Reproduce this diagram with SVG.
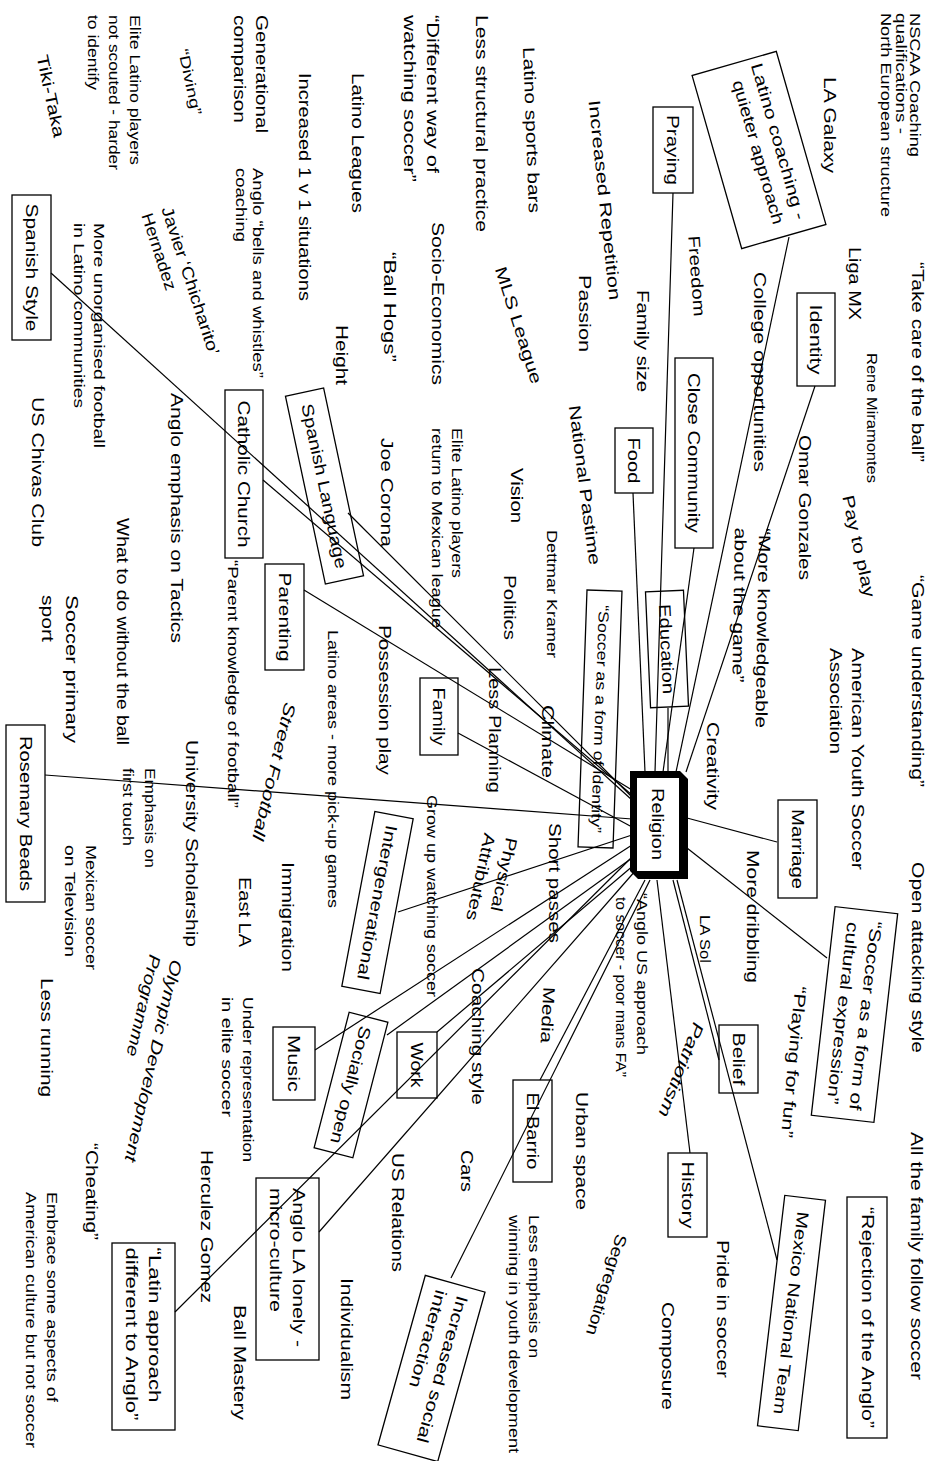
<svg xmlns="http://www.w3.org/2000/svg" width="944" height="1461" viewBox="0 0 944 1461">
<style>
text{font-family:"Liberation Sans",Arial,Helvetica,sans-serif;font-size:16.5px;fill:#000;dominant-baseline:central}
.s{font-size:13px}
.m{font-size:14.5px}
.it{font-style:italic}
.b{fill:none;stroke:#000;stroke-width:1.3}
#connectors line{stroke:#000;stroke-width:1.2}
</style>
<rect width="944" height="1461" fill="#fff"/>
<g id="nscaa" transform="translate(915,13) rotate(90)"><text class="m" textLength="144" lengthAdjust="spacingAndGlyphs">NSCAA Coaching</text><text class="m" y="14.5" textLength="121" lengthAdjust="spacingAndGlyphs">qualifications -</text><text class="m" y="29" textLength="204" lengthAdjust="spacingAndGlyphs">North European structure</text></g>
<g id="take-care" transform="translate(918,262) rotate(90)"><text textLength="200" lengthAdjust="spacingAndGlyphs">“Take care of the ball”</text></g>
<g id="game-und" transform="translate(918,575) rotate(90)"><text textLength="212" lengthAdjust="spacingAndGlyphs">“Game understanding”</text></g>
<g id="open-att" transform="translate(918,862) rotate(90)"><text textLength="191" lengthAdjust="spacingAndGlyphs">Open attacking style</text></g>
<g id="all-family" transform="translate(917,1132) rotate(90)"><text textLength="248" lengthAdjust="spacingAndGlyphs">All the family follow soccer</text></g>
<g id="rejection" transform="translate(867,1317.5) rotate(90)"><rect class="b" x="-120.5" y="-20" width="241" height="40"/><text text-anchor="middle" y="-1" textLength="221" lengthAdjust="spacingAndGlyphs">“Rejection of the Anglo”</text></g>
<g id="la-galaxy" transform="translate(830,77) rotate(90)"><text textLength="96" lengthAdjust="spacingAndGlyphs">LA Galaxy</text></g>
<g id="liga-mx" transform="translate(855,247) rotate(90)"><text textLength="73" lengthAdjust="spacingAndGlyphs">Liga MX</text></g>
<g id="rene" transform="translate(872,353) rotate(90)"><text class="m" textLength="130" lengthAdjust="spacingAndGlyphs">Rene Miramontes</text></g>
<g id="ayso" transform="translate(858,648) rotate(90)"><text textLength="222" lengthAdjust="spacingAndGlyphs">American Youth Soccer</text><text y="22" textLength="106" lengthAdjust="spacingAndGlyphs">Association</text></g>
<g id="soccer-cultural" transform="translate(854.5,1014.5) rotate(96.5)"><rect class="b" x="-105" y="-31.5" width="210" height="63"/><text text-anchor="middle" y="-11.5" textLength="190" lengthAdjust="spacingAndGlyphs">“Soccer as a form of</text><text text-anchor="middle" y="11.5" textLength="183" lengthAdjust="spacingAndGlyphs">cultural expression”</text></g>
<g id="playing-fun" transform="translate(794,1062) rotate(95.3)"><text text-anchor="middle" textLength="152" lengthAdjust="spacingAndGlyphs">“Playing for fun”</text></g>
<g id="mexico" transform="translate(791.5,1313) rotate(96.75)"><rect class="b" x="-116" y="-20.5" width="232" height="41"/><text text-anchor="middle" textLength="204" lengthAdjust="spacingAndGlyphs">Mexico National Team</text></g>
<g id="pride" transform="translate(723,1240) rotate(90)"><text textLength="138" lengthAdjust="spacingAndGlyphs">Pride in soccer</text></g>
<g id="composure" transform="translate(668,1302) rotate(90)"><text textLength="108" lengthAdjust="spacingAndGlyphs">Composure</text></g>
<g id="history" transform="translate(687.5,1195) rotate(90)"><rect class="b" x="-42" y="-19.5" width="84" height="39"/><text text-anchor="middle" textLength="67" lengthAdjust="spacingAndGlyphs">History</text></g>
<g id="segregation" transform="translate(607,1285) rotate(107)"><text text-anchor="middle" textLength="105" lengthAdjust="spacingAndGlyphs">Segregation</text></g>
<g id="less-emph" transform="translate(534,1215) rotate(90)"><text class="m" textLength="143" lengthAdjust="spacingAndGlyphs">Less emphasis on</text><text class="m" y="20.5" textLength="238" lengthAdjust="spacingAndGlyphs">winning in youth development</text></g>
<g id="inc-social" transform="translate(431.5,1368.5) rotate(105.6)"><rect class="b" x="-88" y="-31" width="176" height="62"/><text x="-78" y="-11" textLength="152" lengthAdjust="spacingAndGlyphs">Increased social</text><text x="-78" y="11" textLength="101" lengthAdjust="spacingAndGlyphs">interaction</text></g>
<g id="individualism" transform="translate(347,1278) rotate(90)"><text textLength="122" lengthAdjust="spacingAndGlyphs">Individualism</text></g>
<g id="us-rel" transform="translate(398,1153) rotate(90)"><text textLength="119" lengthAdjust="spacingAndGlyphs">US Relations</text></g>
<g id="cars" transform="translate(467,1150) rotate(90)"><text textLength="42" lengthAdjust="spacingAndGlyphs">Cars</text></g>
<g id="urban" transform="translate(582,1092) rotate(90)"><text textLength="118" lengthAdjust="spacingAndGlyphs">Urban space</text></g>
<g id="el-barrio" transform="translate(532.5,1131) rotate(90)"><rect class="b" x="-51" y="-19.5" width="102" height="39"/><text text-anchor="middle" textLength="77" lengthAdjust="spacingAndGlyphs">El Barrio</text></g>
<g id="anglo-la" transform="translate(287.5,1269) rotate(90)"><rect class="b" x="-91" y="-31.5" width="182" height="63"/><text x="-81" y="-11.5" textLength="159" lengthAdjust="spacingAndGlyphs">Anglo LA lonely -</text><text x="-81" y="11.5" textLength="124" lengthAdjust="spacingAndGlyphs">micro-culture</text></g>
<g id="latin-approach" transform="translate(143.5,1336.5) rotate(90)"><rect class="b" x="-93.5" y="-31.5" width="187" height="63"/><text x="-89" y="-11.5" textLength="155" lengthAdjust="spacingAndGlyphs">“Latin approach</text><text x="-89" y="11.5" textLength="173" lengthAdjust="spacingAndGlyphs">different to Anglo”</text></g>
<g id="ball-mastery" transform="translate(240,1305) rotate(90)"><text textLength="115" lengthAdjust="spacingAndGlyphs">Ball Mastery</text></g>
<g id="herculez" transform="translate(207,1150) rotate(90)"><text textLength="153" lengthAdjust="spacingAndGlyphs">Herculez Gomez</text></g>
<g id="cheating" transform="translate(92,1143) rotate(90)"><text textLength="97" lengthAdjust="spacingAndGlyphs">“Cheating”</text></g>
<g id="embrace" transform="translate(52,1192) rotate(90)"><text class="m" textLength="210" lengthAdjust="spacingAndGlyphs">Embrace some aspects of</text><text class="m" y="21" textLength="256" lengthAdjust="spacingAndGlyphs">American culture but not soccer</text></g>
<g id="olympic" transform="translate(177,960) rotate(103)"><text class="it" textLength="207" lengthAdjust="spacingAndGlyphs">Olympic Development</text><text class="it" y="22" textLength="104" lengthAdjust="spacingAndGlyphs">Programme</text></g>
<g id="under-rep" transform="translate(248,997) rotate(90)"><text class="m" textLength="165" lengthAdjust="spacingAndGlyphs">Under representation</text><text class="m" y="21" textLength="120" lengthAdjust="spacingAndGlyphs">in elite soccer</text></g>
<g id="music" transform="translate(294,1063.5) rotate(90)"><rect class="b" x="-36.5" y="-21" width="73" height="42"/><text text-anchor="middle" textLength="57" lengthAdjust="spacingAndGlyphs">Music</text></g>
<g id="less-running" transform="translate(47,978) rotate(90)"><text textLength="119" lengthAdjust="spacingAndGlyphs">Less running</text></g>
<g id="mex-tv" transform="translate(91,845) rotate(90)"><text class="m" textLength="125" lengthAdjust="spacingAndGlyphs">Mexican soccer</text><text class="m" y="21" textLength="112" lengthAdjust="spacingAndGlyphs">on Television</text></g>
<g id="emphasis" transform="translate(150,768) rotate(90)"><text class="m" textLength="100" lengthAdjust="spacingAndGlyphs">Emphasis on</text><text class="m" y="22" textLength="78" lengthAdjust="spacingAndGlyphs">first touch</text></g>
<g id="univ" transform="translate(192,740) rotate(90)"><text textLength="207" lengthAdjust="spacingAndGlyphs">University Scholarship</text></g>
<g id="rosemary" transform="translate(25.5,813.5) rotate(90)"><rect class="b" x="-88.5" y="-19.5" width="177" height="39"/><text text-anchor="middle" textLength="155" lengthAdjust="spacingAndGlyphs">Rosemary Beads</text></g>
<g id="immigration" transform="translate(288,862) rotate(90)"><text textLength="110" lengthAdjust="spacingAndGlyphs">Immigration</text></g>
<g id="east-la" transform="translate(245,877) rotate(90)"><text textLength="70" lengthAdjust="spacingAndGlyphs">East LA</text></g>
<g id="street" transform="translate(274.5,771.5) rotate(103.5)"><text class="it" text-anchor="middle" textLength="141" lengthAdjust="spacingAndGlyphs">Street Football</text></g>
<g id="parent-know" transform="translate(233,560) rotate(90)"><text class="m" textLength="248" lengthAdjust="spacingAndGlyphs">“Parent knowledge of football”</text></g>
<g id="parenting" transform="translate(284.5,617) rotate(90)"><rect class="b" x="-53" y="-19.5" width="106" height="39"/><text text-anchor="middle" textLength="89" lengthAdjust="spacingAndGlyphs">Parenting</text></g>
<g id="catholic" transform="translate(244,474) rotate(90)"><rect class="b" x="-84" y="-19" width="168" height="38"/><text text-anchor="middle" textLength="147" lengthAdjust="spacingAndGlyphs">Catholic Church</text></g>
<g id="anglo-tactics" transform="translate(177,393) rotate(90)"><text textLength="250" lengthAdjust="spacingAndGlyphs">Anglo emphasis on Tactics</text></g>
<g id="what-to-do" transform="translate(123,518) rotate(90)"><text textLength="227" lengthAdjust="spacingAndGlyphs">What to do without the ball</text></g>
<g id="soccer-primary" transform="translate(72,595) rotate(90)"><text textLength="148" lengthAdjust="spacingAndGlyphs">Soccer primary</text><text y="24" textLength="47" lengthAdjust="spacingAndGlyphs">sport</text></g>
<g id="us-chivas" transform="translate(38,397) rotate(90)"><text textLength="150" lengthAdjust="spacingAndGlyphs">US Chivas Club</text></g>
<g id="unorganised" transform="translate(99,223) rotate(90)"><text class="m" textLength="225" lengthAdjust="spacingAndGlyphs">More unorganised football</text><text class="m" y="20" textLength="185" lengthAdjust="spacingAndGlyphs">in Latino communities</text></g>
<g id="spanish-style" transform="translate(31.5,267.5) rotate(90)"><rect class="b" x="-72.5" y="-19.5" width="145" height="39"/><text text-anchor="middle" textLength="128" lengthAdjust="spacingAndGlyphs">Spanish Style</text></g>
<g id="tiki" transform="translate(51,96) rotate(78)"><text text-anchor="middle" textLength="84" lengthAdjust="spacingAndGlyphs">Tiki-Taka</text></g>
<g id="diving" transform="translate(190,82) rotate(78)"><text class="m" text-anchor="middle" textLength="67" lengthAdjust="spacingAndGlyphs">“Diving”</text></g>
<g id="elite-scout" transform="translate(135,15) rotate(90)"><text class="m" textLength="150" lengthAdjust="spacingAndGlyphs">Elite Latino players</text><text class="m" y="21" textLength="155" lengthAdjust="spacingAndGlyphs">not scouted - harder</text><text class="m" y="42" textLength="75" lengthAdjust="spacingAndGlyphs">to identify</text></g>
<g id="generational" transform="translate(262,15) rotate(90)"><text textLength="118" lengthAdjust="spacingAndGlyphs">Generational</text><text y="22" textLength="108" lengthAdjust="spacingAndGlyphs">comparison</text></g>
<g id="inc-1v1" transform="translate(305,73) rotate(90)"><text textLength="228" lengthAdjust="spacingAndGlyphs">Increased 1 v 1 situations</text></g>
<g id="bells" transform="translate(258,168) rotate(90)"><text class="m" textLength="210" lengthAdjust="spacingAndGlyphs">Anglo “bells and whistles”</text><text class="m" y="17" textLength="74" lengthAdjust="spacingAndGlyphs">coaching</text></g>
<g id="javier" transform="translate(167,207) rotate(72)"><text textLength="155" lengthAdjust="spacingAndGlyphs">Javier ‘Chicharito’</text><text y="21" textLength="80" lengthAdjust="spacingAndGlyphs">Hernadez</text></g>
<g id="latino-leagues" transform="translate(358,73) rotate(90)"><text textLength="140" lengthAdjust="spacingAndGlyphs">Latino Leagues</text></g>
<g id="diff-way" transform="translate(433,15) rotate(90)"><text textLength="158" lengthAdjust="spacingAndGlyphs">“Different way of</text><text y="23" textLength="167" lengthAdjust="spacingAndGlyphs">watching soccer”</text></g>
<g id="less-struct" transform="translate(482,15) rotate(90)"><text textLength="217" lengthAdjust="spacingAndGlyphs">Less structural practice</text></g>
<g id="sports-bars" transform="translate(532,130) rotate(88)"><text text-anchor="middle" textLength="166" lengthAdjust="spacingAndGlyphs">Latino sports bars</text></g>
<g id="inc-rep" transform="translate(605,200) rotate(84)"><text text-anchor="middle" textLength="201" lengthAdjust="spacingAndGlyphs">Increased Repetition</text></g>
<g id="passion" transform="translate(585,275) rotate(90)"><text textLength="77" lengthAdjust="spacingAndGlyphs">Passion</text></g>
<g id="socio" transform="translate(438,222) rotate(90)"><text textLength="163" lengthAdjust="spacingAndGlyphs">Socio-Economics</text></g>
<g id="ball-hogs" transform="translate(390,252) rotate(90)"><text textLength="110" lengthAdjust="spacingAndGlyphs">“Ball Hogs”</text></g>
<g id="height" transform="translate(342,325) rotate(90)"><text textLength="60" lengthAdjust="spacingAndGlyphs">Height</text></g>
<g id="mls" transform="translate(519,325) rotate(72.4)"><text text-anchor="middle" textLength="122" lengthAdjust="spacingAndGlyphs">MLS League</text></g>
<g id="freedom" transform="translate(697,276) rotate(86)"><text text-anchor="middle" textLength="81" lengthAdjust="spacingAndGlyphs">Freedom</text></g>
<g id="college" transform="translate(760,272) rotate(90)"><text textLength="200" lengthAdjust="spacingAndGlyphs">College opportunities</text></g>
<g id="family-size" transform="translate(643,290) rotate(90)"><text textLength="102" lengthAdjust="spacingAndGlyphs">Family size</text></g>
<g id="praying" transform="translate(673,150) rotate(90)"><rect class="b" x="-43" y="-20" width="86" height="40"/><text text-anchor="middle" textLength="70" lengthAdjust="spacingAndGlyphs">Praying</text></g>
<g id="latino-coaching" transform="translate(759,150) rotate(74)"><rect class="b" x="-90" y="-43.8" width="180" height="87.6"/><text text-anchor="middle" x="-3" y="-21.5" textLength="162" lengthAdjust="spacingAndGlyphs">Latino coaching -</text><text text-anchor="middle" x="2" y="1" textLength="149" lengthAdjust="spacingAndGlyphs">quieter approach</text></g>
<g id="identity" transform="translate(816,339.5) rotate(90)"><rect class="b" x="-46.5" y="-19" width="93" height="38"/><text text-anchor="middle" textLength="70" lengthAdjust="spacingAndGlyphs">Identity</text></g>
<g id="close-comm" transform="translate(694,453) rotate(90)"><rect class="b" x="-95" y="-19" width="190" height="38"/><text text-anchor="middle" textLength="160" lengthAdjust="spacingAndGlyphs">Close Community</text></g>
<g id="food" transform="translate(634,460.5) rotate(90)"><rect class="b" x="-32.5" y="-19" width="65" height="38"/><text text-anchor="middle" textLength="46" lengthAdjust="spacingAndGlyphs">Food</text></g>
<g id="omar" transform="translate(805,435) rotate(90)"><text textLength="145" lengthAdjust="spacingAndGlyphs">Omar Gonzales</text></g>
<g id="pay" transform="translate(859,546) rotate(77.8)"><text text-anchor="middle" textLength="104" lengthAdjust="spacingAndGlyphs">Pay to play</text></g>
<g id="more-know" transform="translate(765,528) rotate(91)"><text textLength="200" lengthAdjust="spacingAndGlyphs">“More knowledgeable</text><text y="24" textLength="155" lengthAdjust="spacingAndGlyphs">about the game”</text></g>
<g id="education" transform="translate(667,649) rotate(87.5)"><rect class="b" x="-58" y="-19" width="116" height="38"/><text text-anchor="middle" textLength="90" lengthAdjust="spacingAndGlyphs">Education</text></g>
<g id="creativity" transform="translate(713,722) rotate(90)"><text textLength="88" lengthAdjust="spacingAndGlyphs">Creativity</text></g>
<g id="marriage" transform="translate(797.5,849) rotate(90)"><rect class="b" x="-49" y="-19.5" width="98" height="39"/><text text-anchor="middle" textLength="80" lengthAdjust="spacingAndGlyphs">Marriage</text></g>
<g id="more-dribbling" transform="translate(753,850) rotate(90)"><text textLength="133" lengthAdjust="spacingAndGlyphs">More dribbling</text></g>
<g id="la-sol" transform="translate(705,915) rotate(90)"><text class="m" textLength="48" lengthAdjust="spacingAndGlyphs">LA Sol</text></g>
<g id="anglo-us" transform="translate(642,893) rotate(90)"><text class="m" textLength="162" lengthAdjust="spacingAndGlyphs">“Anglo US approach</text><text class="m" x="4" y="21" textLength="180" lengthAdjust="spacingAndGlyphs">to soccer - poor mans FA”</text></g>
<g id="belief" transform="translate(738.5,1059) rotate(90)"><rect class="b" x="-34" y="-19.5" width="68" height="39"/><text text-anchor="middle" textLength="53" lengthAdjust="spacingAndGlyphs">Belief</text></g>
<g id="patriotism" transform="translate(681.5,1070) rotate(111)"><text class="it" text-anchor="middle" textLength="100" lengthAdjust="spacingAndGlyphs">Patriotism</text></g>
<g id="short-passes" transform="translate(555,823) rotate(90)"><text textLength="120" lengthAdjust="spacingAndGlyphs">Short passes</text></g>
<g id="media" transform="translate(548,1015) rotate(93)"><text text-anchor="middle" textLength="56" lengthAdjust="spacingAndGlyphs">Media</text></g>
<g id="coaching-style" transform="translate(478,968) rotate(90)"><text textLength="137" lengthAdjust="spacingAndGlyphs">Coaching style</text></g>
<g id="physical" transform="translate(512,838) rotate(102)"><text textLength="75" lengthAdjust="spacingAndGlyphs">Physical</text><text y="22" textLength="89" lengthAdjust="spacingAndGlyphs">Attributes</text></g>
<g id="grow-up" transform="translate(432,795) rotate(90)"><text class="m" textLength="202" lengthAdjust="spacingAndGlyphs">Grow up watching soccer</text></g>
<g id="intergen" transform="translate(377.5,902.5) rotate(100.7)"><rect class="b" x="-89" y="-19.5" width="178" height="39"/><text text-anchor="middle" textLength="157" lengthAdjust="spacingAndGlyphs">Intergenerational</text></g>
<g id="socially-open" transform="translate(351,1085) rotate(104.5)"><rect class="b" x="-70" y="-20" width="140" height="40"/><text text-anchor="middle" textLength="121" lengthAdjust="spacingAndGlyphs">Socially open</text></g>
<g id="work" transform="translate(417,1065) rotate(90)"><rect class="b" x="-33" y="-20" width="66" height="40"/><text text-anchor="middle" textLength="45" lengthAdjust="spacingAndGlyphs">Work</text></g>
<g id="latino-areas" transform="translate(333,630) rotate(90)"><text class="m" textLength="278" lengthAdjust="spacingAndGlyphs">Latino areas - more pick-up games</text></g>
<g id="possession" transform="translate(385,625) rotate(90)"><text textLength="150" lengthAdjust="spacingAndGlyphs">Possession play</text></g>
<g id="family" transform="translate(439,716.5) rotate(90)"><rect class="b" x="-38.5" y="-19" width="77" height="38"/><text text-anchor="middle" textLength="58" lengthAdjust="spacingAndGlyphs">Family</text></g>
<g id="less-planning" transform="translate(495,667) rotate(90)"><text textLength="126" lengthAdjust="spacingAndGlyphs">Less Planning</text></g>
<g id="climate" transform="translate(548,705) rotate(90)"><text textLength="73" lengthAdjust="spacingAndGlyphs">Climate</text></g>
<g id="soccer-identity" transform="translate(600,719) rotate(92)"><rect class="b" x="-128.5" y="-17.5" width="257" height="35"/><text class="m" text-anchor="middle" textLength="228" lengthAdjust="spacingAndGlyphs">“Soccer as a form of identity”</text></g>
<g id="dettmar" transform="translate(552,530) rotate(90)"><text class="m" textLength="128" lengthAdjust="spacingAndGlyphs">Dettmar Kramer</text></g>
<g id="politics" transform="translate(510,575) rotate(90)"><text textLength="65" lengthAdjust="spacingAndGlyphs">Politics</text></g>
<g id="vision" transform="translate(517,468) rotate(90)"><text textLength="55" lengthAdjust="spacingAndGlyphs">Vision</text></g>
<g id="nat-pastime" transform="translate(585,485) rotate(82.6)"><text text-anchor="middle" textLength="161" lengthAdjust="spacingAndGlyphs">National Pastime</text></g>
<g id="elite-return" transform="translate(457,428) rotate(90)"><text class="m" textLength="150" lengthAdjust="spacingAndGlyphs">Elite Latino players</text><text class="m" y="20" textLength="200" lengthAdjust="spacingAndGlyphs">return to Mexican league</text></g>
<g id="joe" transform="translate(387,438) rotate(90)"><text textLength="109" lengthAdjust="spacingAndGlyphs">Joe Corona</text></g>
<g id="spanish-lang" transform="translate(324.5,486) rotate(78)"><rect class="b" x="-96" y="-19.5" width="192" height="39"/><text text-anchor="middle" textLength="168" lengthAdjust="spacingAndGlyphs">Spanish Language</text></g>
<g id="connectors">
<line x1="51" y1="273" x2="632" y2="800"/>
<line x1="263" y1="480" x2="632" y2="795"/>
<line x1="348" y1="513" x2="632" y2="797"/>
<line x1="304" y1="590" x2="632" y2="790"/>
<line x1="458" y1="733" x2="632" y2="827"/>
<line x1="45" y1="775" x2="632" y2="819"/>
<line x1="398" y1="912" x2="632" y2="835"/>
<line x1="315" y1="1050" x2="632" y2="845"/>
<line x1="387" y1="1035" x2="632" y2="858"/>
<line x1="437" y1="1032" x2="634" y2="865"/>
<line x1="319" y1="1232" x2="636" y2="870"/>
<line x1="175" y1="1312" x2="634" y2="855"/>
<line x1="540" y1="1080" x2="645" y2="880"/>
<line x1="451" y1="1278" x2="650" y2="880"/>
<line x1="690" y1="1153" x2="657" y2="880"/>
<line x1="719" y1="1060" x2="673" y2="880"/>
<line x1="777" y1="1260" x2="677" y2="880"/>
<line x1="827" y1="958" x2="687" y2="848"/>
<line x1="777" y1="842" x2="687" y2="818"/>
<line x1="815" y1="386" x2="686" y2="772"/>
<line x1="789" y1="237" x2="676" y2="772"/>
<line x1="694" y1="548" x2="663" y2="772"/>
<line x1="668" y1="708" x2="668" y2="772"/>
<line x1="673" y1="193" x2="655" y2="772"/>
<line x1="633" y1="493" x2="645" y2="772"/>
</g>
<g id="religion"><polygon points="630,771 680,771 688,779 688,879 638,879 630,871" fill="#000"/><rect x="637" y="778" width="42" height="93" fill="#fff"/><text transform="translate(658,824) rotate(90)" text-anchor="middle" textLength="72" lengthAdjust="spacingAndGlyphs">Religion</text></g>
</svg>
